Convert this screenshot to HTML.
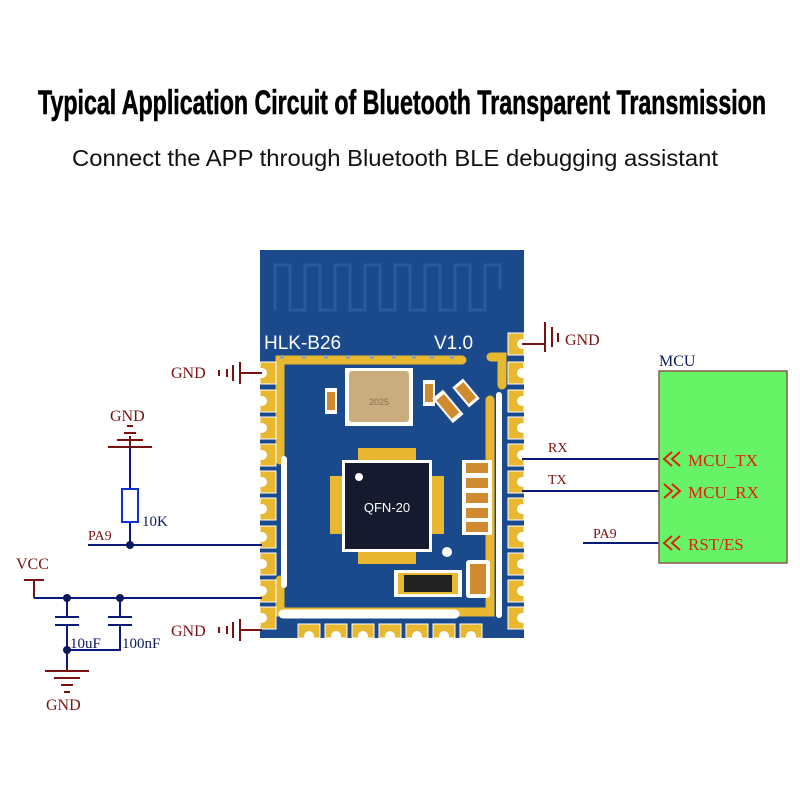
<!DOCTYPE html>
<html><head><meta charset="utf-8"><style>body{margin:0;background:#fff}svg{display:block}</style></head><body>
<svg width="800" height="800" viewBox="0 0 800 800" xmlns="http://www.w3.org/2000/svg">
<rect width="800" height="800" fill="#fff"/>
<text x="38" y="114" font-family="Liberation Sans, sans-serif" font-weight="bold" font-size="34" textLength="728" lengthAdjust="spacingAndGlyphs" fill="#000" stroke="#000" stroke-width="0.6">Typical Application Circuit of Bluetooth Transparent Transmission</text>
<text x="72" y="166" font-family="Liberation Sans, sans-serif" font-size="23" textLength="646" lengthAdjust="spacingAndGlyphs" fill="#111">Connect the APP through Bluetooth BLE debugging assistant</text>

<!-- module -->
<rect x="260" y="250" width="264" height="388" fill="#1b4a8c"/>
<g fill="none" stroke="#2a5a9c" stroke-width="3">
<path d="M275 310 V265 H290 V310 H305 V265 H320 V310 H335 V265 H350 V310 H365 V265 H380 V310 H395 V265 H410 V310 H425 V265 H440 V310 H455 V265 H470 V310 H485 V265 H500 V290"/>
</g>
<text x="264" y="349" font-family="Liberation Sans, sans-serif" font-size="19" fill="#fff">HLK-B26</text>
<text x="434" y="349" font-family="Liberation Sans, sans-serif" font-size="19" fill="#fff">V1.0</text>
<!-- gold frame -->
<path d="M280 460 V360 H462" stroke="#e8b830" stroke-width="9" fill="none" stroke-linecap="round"/>
<path d="M491 357 H502 V385" stroke="#e8b830" stroke-width="9" fill="none" stroke-linecap="round"/>
<path d="M280 580 V612 H490 V400" stroke="#e8b830" stroke-width="9" fill="none" stroke-linecap="round"/>
<path d="M284 459 V585" stroke="#fff" stroke-width="6" stroke-linecap="round"/>
<path d="M283 614 H455" stroke="#fff" stroke-width="9" stroke-linecap="round"/>
<path d="M499 395 V615" stroke="#fff" stroke-width="6" stroke-linecap="round"/>
<g fill="#8aa0c0"><circle cx="282" cy="357" r="2"/><circle cx="304" cy="357" r="2"/><circle cx="326" cy="357" r="2"/><circle cx="348" cy="357" r="2"/><circle cx="372" cy="357" r="2"/><circle cx="394" cy="357" r="2"/><circle cx="414" cy="357" r="2"/><circle cx="432" cy="357" r="2"/><circle cx="452" cy="357" r="2"/></g>
<!-- crystal -->
<rect x="345" y="368" width="68" height="58" fill="#fff"/>
<rect x="349" y="371" width="60" height="51" rx="3" fill="#c9ad7e"/>
<text x="379" y="405" font-family="Liberation Sans" font-size="9" fill="#8a7050" text-anchor="middle">2025</text>
<rect x="325" y="388" width="12" height="26" fill="#fff"/><rect x="327" y="392" width="8" height="18" fill="#d08a30"/>
<rect x="423" y="380" width="12" height="26" fill="#fff"/><rect x="425" y="384" width="8" height="18" fill="#d08a30"/>
<g transform="rotate(-40 448 405)"><rect x="440" y="390" width="14" height="32" fill="#fff"/><rect x="442" y="394" width="10" height="24" fill="#d08a30"/></g>
<g transform="rotate(-40 466 393)"><rect x="459" y="380" width="14" height="26" fill="#fff"/><rect x="461" y="383" width="10" height="20" fill="#d08a30"/></g>
<!-- QFN -->
<rect x="330" y="448" width="116" height="116" fill="#fff" opacity="0"/>
<g fill="#e8b830"><rect x="358" y="448" width="58" height="14"/><rect x="358" y="550" width="58" height="14"/><rect x="330" y="476" width="14" height="58"/><rect x="430" y="476" width="14" height="58"/></g>
<rect x="342" y="460" width="90" height="92" fill="#fff"/>
<rect x="345" y="463" width="84" height="86" fill="#151a2e"/>
<circle cx="359" cy="477" r="4" fill="#fff"/>
<text x="387" y="512" font-family="Liberation Sans, sans-serif" font-size="13" fill="#fff" text-anchor="middle">QFN-20</text>
<g><rect x="462" y="460" width="30" height="75" fill="#fff"/>
<rect x="466" y="463" width="22" height="10" fill="#d08a30"/><rect x="466" y="478" width="22" height="10" fill="#d08a30"/><rect x="466" y="493" width="22" height="10" fill="#d08a30"/><rect x="466" y="508" width="22" height="10" fill="#d08a30"/><rect x="466" y="522" width="22" height="10" fill="#d08a30"/></g>
<circle cx="447" cy="552" r="5" fill="#fff"/>
<rect x="394" y="570" width="68" height="27" fill="#fff"/><rect x="398" y="573" width="60" height="21" fill="#e8b830"/><rect x="404" y="575" width="48" height="17" fill="#222"/>
<rect x="466" y="560" width="24" height="38" rx="3" fill="#fff"/><rect x="470" y="564" width="16" height="30" fill="#d08a30"/>
<!-- pads -->
<g fill="#e8b830" stroke="#fff" stroke-width="1">
<rect x="260" y="362" width="16" height="22"/><rect x="260" y="390" width="16" height="22"/><rect x="260" y="417" width="16" height="22"/><rect x="260" y="444" width="16" height="22"/><rect x="260" y="471" width="16" height="22"/><rect x="260" y="498" width="16" height="22"/><rect x="260" y="526" width="16" height="22"/><rect x="260" y="553" width="16" height="22"/><rect x="260" y="580" width="16" height="22"/><rect x="260" y="607" width="16" height="22"/>
<rect x="508" y="333" width="16" height="22"/><rect x="508" y="362" width="16" height="22"/><rect x="508" y="390" width="16" height="22"/><rect x="508" y="417" width="16" height="22"/><rect x="508" y="444" width="16" height="22"/><rect x="508" y="471" width="16" height="22"/><rect x="508" y="498" width="16" height="22"/><rect x="508" y="526" width="16" height="22"/><rect x="508" y="553" width="16" height="22"/><rect x="508" y="580" width="16" height="22"/><rect x="508" y="607" width="16" height="22"/>
<rect x="298" y="624" width="22" height="14"/><rect x="325" y="624" width="22" height="14"/><rect x="352" y="624" width="22" height="14"/><rect x="379" y="624" width="22" height="14"/><rect x="406" y="624" width="22" height="14"/><rect x="433" y="624" width="22" height="14"/><rect x="460" y="624" width="22" height="14"/>
</g>
<g fill="#fff">
<circle cx="262" cy="373" r="5"/><circle cx="262" cy="401" r="5"/><circle cx="262" cy="428" r="5"/><circle cx="262" cy="455" r="5"/><circle cx="262" cy="482" r="5"/><circle cx="262" cy="509" r="5"/><circle cx="262" cy="537" r="5"/><circle cx="262" cy="564" r="5"/><circle cx="262" cy="591" r="5"/><circle cx="262" cy="618" r="5"/>
<circle cx="522" cy="344" r="5"/><circle cx="522" cy="373" r="5"/><circle cx="522" cy="401" r="5"/><circle cx="522" cy="428" r="5"/><circle cx="522" cy="455" r="5"/><circle cx="522" cy="482" r="5"/><circle cx="522" cy="509" r="5"/><circle cx="522" cy="537" r="5"/><circle cx="522" cy="564" r="5"/><circle cx="522" cy="591" r="5"/><circle cx="522" cy="618" r="5"/>
<circle cx="309" cy="636" r="5"/><circle cx="336" cy="636" r="5"/><circle cx="363" cy="636" r="5"/><circle cx="390" cy="636" r="5"/><circle cx="417" cy="636" r="5"/><circle cx="444" cy="636" r="5"/><circle cx="471" cy="636" r="5"/>
</g>

<!-- schematic -->
<g font-family="Liberation Serif, serif" font-size="16" fill="#7a1010">
<text x="171" y="378">GND</text>
<text x="171" y="636">GND</text>
<text x="110" y="421">GND</text>
<text x="46" y="710">GND</text>
<text x="16" y="569">VCC</text>
<text x="88" y="540" font-size="14">PA9</text>
<text x="565" y="345">GND</text>
<text x="548" y="452" font-size="14">RX</text>
<text x="548" y="484" font-size="14">TX</text>
<text x="593" y="538" font-size="14">PA9</text>
</g>
<g stroke="#7a1010" stroke-width="2" fill="none">
<path d="M262 373 H240 M240 362 V384 M233 365 V381 M227 369 V377 M219 370 V376"/>
<path d="M262 630 H240 M240 619 V641 M233 622 V638 M227 626 V634 M219 627 V633"/>
<path d="M522 344 H545 M545 322 V352 M552 327 V347 M558 333 V342"/>
<path d="M130 447 V436 M108 447 H152 M117 440 H143 M124 433 H136 M127 426 H133"/>
<path d="M67 668 V671 M45 671 H89 M54 678 H80 M61 685 H73 M64 692 H70"/>
<path d="M34 598 V580 M24 580 H44"/>
</g>
<g stroke="#0a1a7a" stroke-width="2" fill="none">
<path d="M130 447 V488 M130 522 V545 M88 545 H262"/>
<path d="M34 598 H262"/>
<path d="M67 598 V617 M55 617 H79 M55 625 H79 M67 625 V650 H120 V625 M108 617 H132 M108 625 H132 M120 598 V617 M67 650 V668"/>
<path d="M522 459 H660 M522 491 H660 M583 543 H660"/>
</g>
<rect x="122" y="489" width="16" height="33" fill="none" stroke="#1030d0" stroke-width="2"/>
<g fill="#0a1a5a"><circle cx="130" cy="545" r="4"/><circle cx="67" cy="598" r="4"/><circle cx="120" cy="598" r="4"/><circle cx="67" cy="650" r="4"/></g>
<g font-family="Liberation Serif, serif" font-size="15" fill="#0a1a5a">
<text x="142" y="526">10K</text>
<text x="70" y="648">10uF</text>
<text x="122" y="648">100nF</text>
</g>
<rect x="659" y="371" width="128" height="192" fill="#66f466" stroke="#8a5a4a" stroke-width="1.5"/>
<text x="659" y="366" font-family="Liberation Serif, serif" font-size="16" fill="#0a1a5a">MCU</text>
<g stroke="#e02010" stroke-width="2" fill="none">
<path d="M672 452 L664 459 L672 466 M680 452 L672 459 L680 466"/>
<path d="M664 484 L672 491 L664 498 M672 484 L680 491 L672 498"/>
<path d="M672 536 L664 543 L672 550 M680 536 L672 543 L680 550"/>
</g>
<g font-family="Liberation Serif, serif" font-size="17" fill="#e02010">
<text x="688" y="466">MCU_TX</text>
<text x="688" y="498">MCU_RX</text>
<text x="688" y="550">RST/ES</text>
</g>
</svg>
</body></html>
